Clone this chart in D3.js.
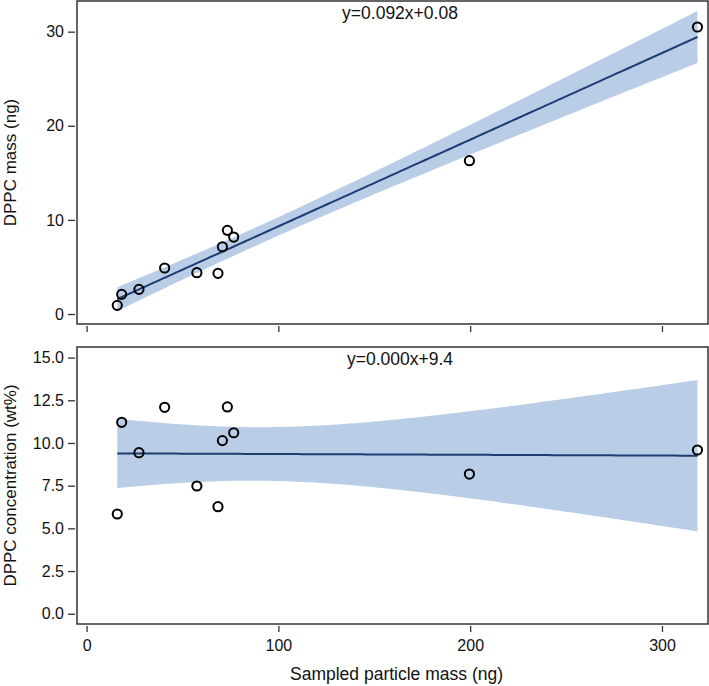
<!DOCTYPE html>
<html>
<head>
<meta charset="utf-8">
<script src="https://cdn.jsdelivr.net/npm/d3@7"></script>
<style>
  html, body { margin: 0; padding: 0; background: #fff; }
  svg { display: block; font-family: "Liberation Sans", Arial, Helvetica, sans-serif; }
</style>
</head>
<body>
<svg id="chart" width="709" height="686"></svg>
<script>
// ---- data ----
const particleMass = [16.0, 18.3, 27.3, 40.7, 57.5, 68.5, 70.8, 73.4, 76.7, 199.6, 318.5];
const dppcMass     = [0.92, 2.09, 2.62, 4.89, 4.39, 4.32, 7.15, 8.89, 8.18, 16.29, 30.5];
const dppcConc     = [5.84, 11.21, 9.43, 12.09, 7.48, 6.27, 10.14, 12.11, 10.6, 8.18, 9.59];

const xTicks     = [0, 100, 200, 300];
const yTicksTop  = [0, 10, 20, 30];
const yTicksBot  = [0, 2.5, 5, 7.5, 10, 12.5, 15];
const eqLabels   = ["y=0.092x+0.08", "y=0.000x+9.4"];
const yTitles    = ["DPPC mass (ng)", "DPPC concentration (wt%)"];
const xTitle     = "Sampled particle mass (ng)";

// ---- layout ----
const svg = d3.select("#chart");
const left = 77, right = 708;
const panels = [
  { top: 1,   bottom: 324, domain: [-1.06, 33.26], ys: dppcMass, ticks: yTicksTop, fmt: d3.format("d"),   xLabels: false, title: yTitles[0], eq: eqLabels[0] },
  { top: 347, bottom: 624, domain: [-0.6, 15.62],  ys: dppcConc, ticks: yTicksBot, fmt: d3.format(".1f"), xLabels: true,  title: yTitles[1], eq: eqLabels[1] }
];

const x = d3.scaleLinear().domain([-5, 324]).range([left, right]);

// linear regression with 95% confidence band
function fit(xs, ys) {
  const n = xs.length;
  const mx = d3.mean(xs), my = d3.mean(ys);
  let sxx = 0, sxy = 0;
  for (let i = 0; i < n; i++) { sxx += (xs[i]-mx)**2; sxy += (xs[i]-mx)*(ys[i]-my); }
  const b = sxy / sxx, a = my - b * mx;
  let sse = 0;
  for (let i = 0; i < n; i++) sse += (ys[i] - (a + b*xs[i]))**2;
  const s = Math.sqrt(sse / (n - 2));
  const t = 2.262; // t(0.975, df=9)
  const x0 = d3.min(xs), x1 = d3.max(xs);
  const pts = d3.range(0, 101).map(k => {
    const xv = x0 + (x1 - x0) * k / 100;
    const yv = a + b * xv;
    const hw = t * s * Math.sqrt(1/n + (xv-mx)**2 / sxx);
    return { x: xv, y: yv, lo: yv - hw, hi: yv + hw };
  });
  return pts;
}

const axisColor = "#333";
const fontTick = 16, fontTitle = 17;

panels.forEach(p => {
  const y = d3.scaleLinear().domain(p.domain).range([p.bottom, p.top]);
  const g = svg.append("g");
  const pts = fit(particleMass, p.ys);

  g.append("path")
    .datum(pts)
    .attr("fill", "#b9cde6")
    .attr("d", d3.area().x(d => x(d.x)).y0(d => y(d.lo)).y1(d => y(d.hi)));

  g.append("path")
    .datum(pts)
    .attr("fill", "none")
    .attr("stroke", "#1c3c72")
    .attr("stroke-width", 2)
    .attr("d", d3.line().x(d => x(d.x)).y(d => y(d.y)));

  g.selectAll("circle.pt")
    .data(particleMass.map((v, i) => [v, p.ys[i]]))
    .join("circle")
    .attr("class", "pt")
    .attr("cx", d => x(d[0]))
    .attr("cy", d => y(d[1]))
    .attr("r", 4.6)
    .attr("fill", "none")
    .attr("stroke", "#000")
    .attr("stroke-width", 2);

  // frame
  g.append("rect")
    .attr("x", left).attr("y", p.top)
    .attr("width", right - left).attr("height", p.bottom - p.top)
    .attr("fill", "none").attr("stroke", axisColor).attr("stroke-width", 1.5);

  // y axis (offset from frame)
  const yAxis = d3.axisLeft(y).tickValues(p.ticks).tickFormat(p.fmt).tickSize(7).tickPadding(4);
  const ya = g.append("g").attr("transform", `translate(${left - 2},0)`).call(yAxis);
  ya.select(".domain").remove();
  ya.selectAll(".tick line").attr("stroke", axisColor).attr("stroke-width", 1.3);
  ya.selectAll(".tick text").attr("fill", "#111").style("font-size", fontTick + "px")
    .style("font-family", '"Liberation Sans", Arial, sans-serif');

  // x axis (offset from frame)
  const xAxis = d3.axisBottom(x).tickValues(xTicks).tickSize(6).tickPadding(8)
    .tickFormat(p.xLabels ? d3.format("d") : () => "");
  const xa = g.append("g").attr("transform", `translate(0,${p.bottom + 2})`).call(xAxis);
  xa.select(".domain").remove();
  xa.selectAll(".tick line").attr("stroke", axisColor).attr("stroke-width", 1.3);
  xa.selectAll(".tick text").attr("fill", "#111").style("font-size", fontTick + "px")
    .style("font-family", '"Liberation Sans", Arial, sans-serif');

  // equation label
  g.append("text")
    .attr("x", 400).attr("y", p.top + 17.5)
    .attr("text-anchor", "middle")
    .style("font-size", 17.5 + "px")
    .attr("fill", "#111")
    .text(p.eq);

  // y title
  g.append("text")
    .attr("transform", `translate(16,${(p.top + p.bottom) / 2}) rotate(-90)`)
    .attr("text-anchor", "middle")
    .style("font-size", fontTitle + "px")
    .attr("fill", "#111")
    .text(p.title);
});

svg.append("text")
  .attr("x", 396.5).attr("y", 680)
  .attr("text-anchor", "middle")
  .style("font-size", 17.5 + "px")
  .attr("fill", "#111")
  .text(xTitle);
</script>
</body>
</html>
